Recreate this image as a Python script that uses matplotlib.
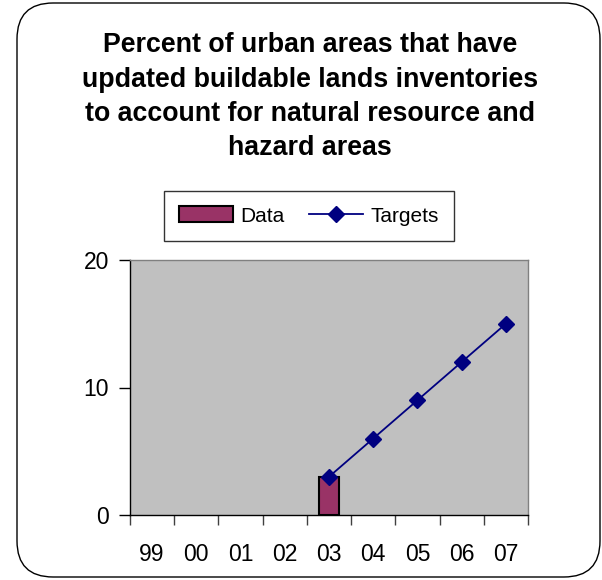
"""
Percent of urban areas with updated buildable lands inventories.
"""

import numpy as np
import matplotlib

matplotlib.use("Agg")
import matplotlib.pyplot as plt
from matplotlib.patches import FancyBboxPatch, Patch
from matplotlib.lines import Line2D

years = ["99", "00", "01", "02", "03", "04", "05", "06", "07"]
data_values = [np.nan, np.nan, np.nan, np.nan, 3, np.nan, np.nan, np.nan, np.nan]
target_values = [np.nan, np.nan, np.nan, np.nan, 3, 6, 9, 12, 15]

plt.rcParams["font.family"] = ["Liberation Sans", "DejaVu Sans"]

fig = plt.figure(figsize=(6.02, 5.8), dpi=100, facecolor="white")

# outer rounded frame
frame = FancyBboxPatch(
    (17 / 602, 3 / 580), 583 / 602, 574 / 580,
    boxstyle="round,pad=0,rounding_size=0.06",
    transform=fig.transFigure, facecolor="none", edgecolor="black",
    linewidth=1.0, zorder=-1, mutation_aspect=602 / 580,
)
fig.patches.append(frame)

fig.text(
    0.515, 0.944,
    "Percent of urban areas that have\nupdated buildable lands inventories\n"
    "to account for natural resource and\nhazard areas",
    ha="center", va="top", fontsize=19.3, fontweight="bold",
    linespacing=1.41,
)

ax = fig.add_axes([130 / 602, 1 - 515 / 580, 398 / 602, 255 / 580])
ax.set_facecolor("#c0c0c0")
x = np.arange(len(years))

ax.bar(x, data_values, width=0.47, color="#993366", edgecolor="black",
       linewidth=1.5, zorder=2)
ax.plot(x, target_values, color="#000080", linewidth=1.3, marker="D",
        markersize=8, markerfacecolor="#000080", markeredgecolor="#000080",
        zorder=3)

ax.set_xlim(-0.5, len(years) - 0.5)
ax.set_ylim(0, 20)
ax.set_yticks([0, 10, 20])
ax.set_yticklabels(["0", "10", "20"], fontsize=16.5)
ax.set_xticks(x)
ax.set_xticklabels(years, fontsize=16.5)
ax.tick_params(axis="x", which="major", length=0, pad=20)
ax.set_xticks(np.arange(-0.5, len(years)), minor=True)
ax.tick_params(axis="x", which="minor", length=7, width=1, color="#404040",
               direction="out")
ax.tick_params(axis="y", length=8, width=1, direction="out", pad=7)

for name in ("top", "right"):
    ax.spines[name].set_color("#808080")
    ax.spines[name].set_linewidth(1.0)
for name in ("left", "bottom"):
    ax.spines[name].set_color("black")
    ax.spines[name].set_linewidth(1.0)

handles = [
    Patch(facecolor="#993366", edgecolor="black", linewidth=1.5),
    Line2D([], [], color="#000080", linewidth=1.3, marker="D", markersize=8),
]
leg = fig.legend(
    handles, ["Data", "Targets"], loc="center",
    bbox_to_anchor=(309 / 602, 1 - 216 / 580), ncol=2, fontsize=15,
    frameon=True, fancybox=False, edgecolor="black", handlelength=2.6,
    handleheight=0.8, handletextpad=0.35, columnspacing=1.15, borderpad=0.72,
)
leg.get_frame().set_linewidth(1.0)

fig.savefig("out.png", dpi=100, facecolor="white")
